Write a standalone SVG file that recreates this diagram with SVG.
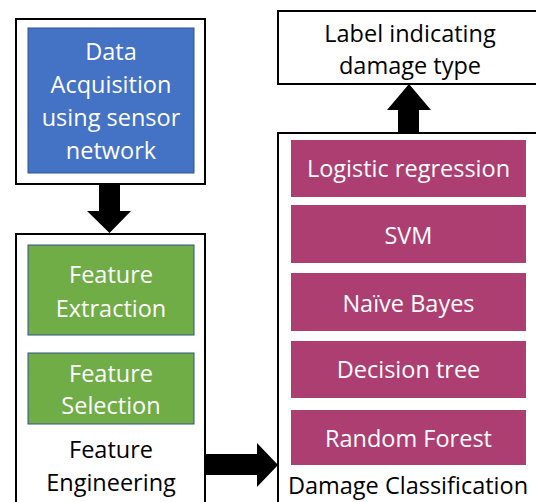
<svg xmlns="http://www.w3.org/2000/svg" width="536" height="502" viewBox="0 0 536 502">
<style>
.frame{fill:#fff;stroke:#000;stroke-width:2}
.blue{fill:#4472C4;stroke:#2F528F;stroke-width:1}
.green{fill:#70AD47;stroke:#2F528F;stroke-width:1}
.berry{fill:#AD3E72}
text{font-family:"Open Sans","Liberation Sans",sans-serif;font-size:23.5px;text-anchor:middle}
.w{fill:#fff}
.k{fill:#000}
.arrow{fill:#000}
</style>
<rect width="536" height="502" fill="#fff"/>
<g id="acq">
<rect class="frame" x="16" y="19" width="189" height="165"/>
<rect class="blue" x="28" y="28" width="166" height="145"/>
<text class="w" x="111" y="60">Data</text>
<text class="w" x="111" y="93">Acquisition</text>
<text class="w" x="111" y="126">using sensor</text>
<text class="w" x="111" y="159">network</text>
</g>
<g id="feature-engineering">
<rect class="frame" x="16" y="234" width="189" height="280"/>
<g id="feature-extraction">
<rect class="green" x="28" y="245" width="166" height="90"/>
<text class="w" x="111" y="283">Feature</text>
<text class="w" x="111" y="317">Extraction</text>
</g>
<g id="feature-selection">
<rect class="green" x="28" y="353" width="166" height="71"/>
<text class="w" x="111" y="382">Feature</text>
<text class="w" x="111" y="414">Selection</text>
</g>
<text class="k" x="111" y="458">Feature</text>
<text class="k" x="111" y="491">Engineering</text>
</g>
<g id="label">
<rect class="frame" x="278" y="11" width="270" height="73"/>
<text class="k" x="410" y="42">Label indicating</text>
<text class="k" x="410" y="74">damage type</text>
</g>
<g id="damage-classification">
<rect class="frame" x="278" y="133" width="270" height="380"/>
<g id="logreg"><rect class="berry" x="291" y="140" width="235" height="57"/><text class="w" x="408.5" y="177">Logistic regression</text></g>
<g id="svm"><rect class="berry" x="291" y="205" width="235" height="58"/><text class="w" x="408.5" y="244">SVM</text></g>
<g id="nb"><rect class="berry" x="291" y="273" width="235" height="58"/><text class="w" x="408.5" y="312">Naïve Bayes</text></g>
<g id="dt"><rect class="berry" x="291" y="341" width="235" height="57"/><text class="w" x="408.5" y="378">Decision tree</text></g>
<g id="rf"><rect class="berry" x="291" y="410" width="235" height="55"/><text class="w" x="408.5" y="447">Random Forest</text></g>
<text class="k" x="408" y="494">Damage Classification</text>
</g>
<g id="connectors">
<polygon class="arrow" points="99,184 120,184 120,211 131,211 109.5,233 87,211 99,211"/>
<polygon class="arrow" points="205,454 257,454 257,443 278,465 257,487 257,475 205,475"/>
<polygon class="arrow" points="398,133 419,133 419,110 431,110 409,84 387,110 398,110"/>
</g>
</svg>
